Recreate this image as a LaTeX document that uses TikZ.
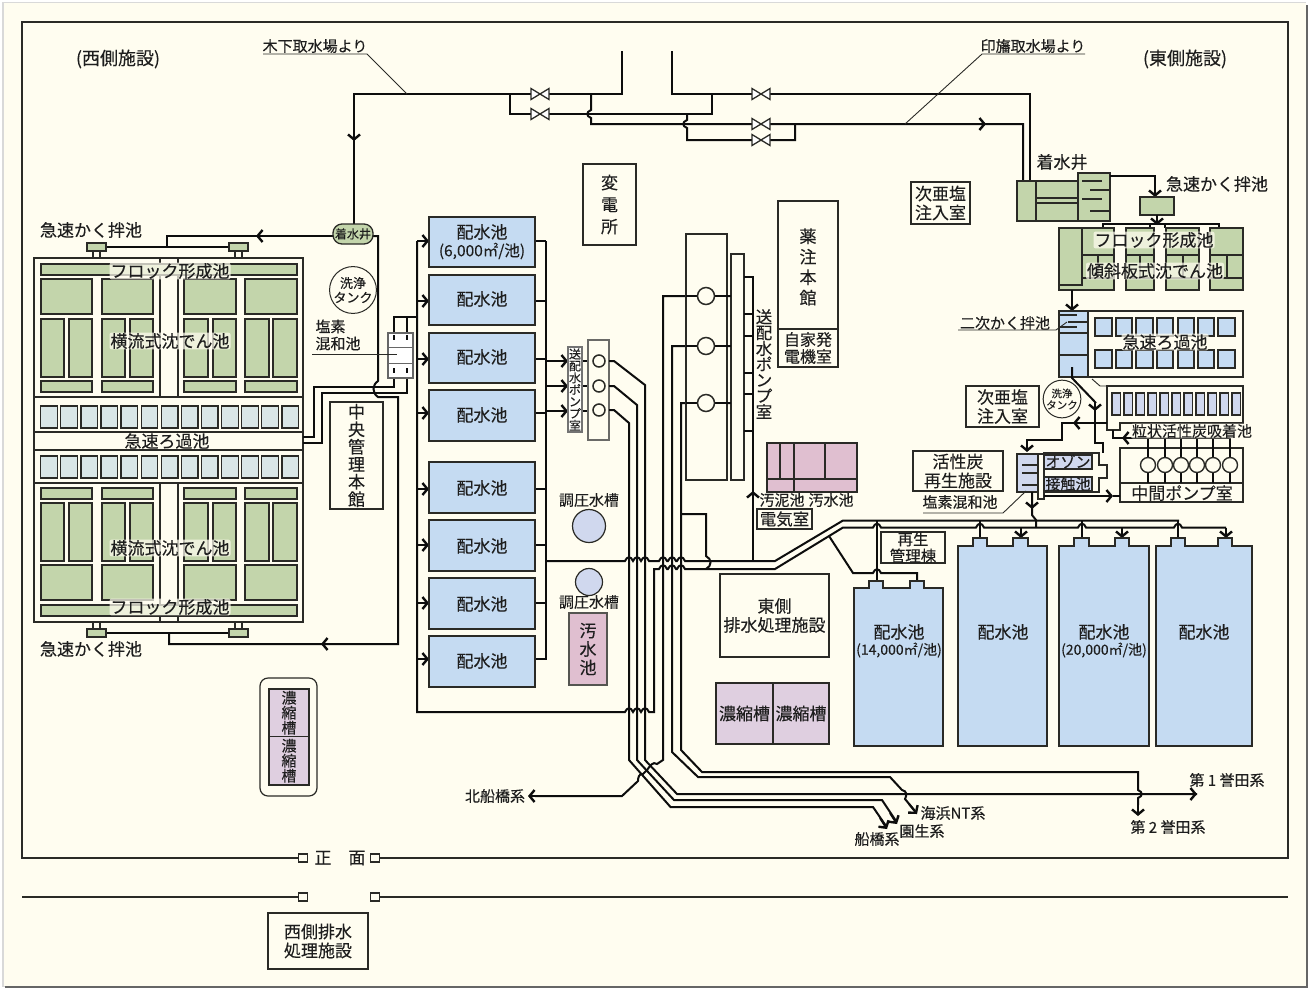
\documentclass[tikz,border=0pt]{standalone}
\usepackage{fontspec}
\setmainfont[FakeBold=0.2]{Noto Sans CJK JP}
\usetikzlibrary{arrows.meta}
\definecolor{cream}{HTML}{FFFDF0}
\definecolor{ln}{HTML}{2A2A26}
\definecolor{grn}{HTML}{C3D5AB}
\definecolor{flt}{HTML}{D9E6E6}
\definecolor{blu}{HTML}{C5DBF2}
\definecolor{lav}{HTML}{DFCFE0}
\definecolor{pnk}{HTML}{E0BFD0}
\definecolor{prp}{HTML}{D0D8EE}
\definecolor{txc}{HTML}{1E1E1E}
\newcommand\fsz[2]{\fontsize{#1}{#2}\selectfont}
\tikzset{
  tank/.style={draw=ln,line width=1.3pt,line join=miter},
  thin line/.style={draw=ln,line width=.9pt},
  pipe/.style={draw=black!95,line width=2pt,line join=miter},
  pipes/.style={draw=black!95,line width=1.6pt},
  arr/.style={pipe,-{Straight Barb[length=5pt,width=12pt,line width=2.4pt]}},
  txt/.style={text=txc,align=center,inner sep=0pt,font=\fsz{17}{19}},
  halo/.style={txt,fill=cream,fill opacity=.72,text opacity=1,inner xsep=1pt,inner ysep=.5pt,rounded corners=2pt},
  box/.style={draw=ln,line width=1.3pt,fill=cream,align=center,text=txc,inner sep=0pt,font=\fsz{17}{19}},
}
\newcommand\rk[5][none]{\draw[tank,fill=#1] (#2,#3) rectangle (#4,#5);}
\newcommand\bxn[7][]{\node[box,#1,minimum width={(#5-#3)*1pt},minimum height={(#6-#4)*1pt}] (#2) at ({(#3+#5)/2},{(#4+#6)/2}) {#7};}
\newcommand\tx[5][]{\node[txt,#1] (#2) at (#3,#4) {#5};}
\newcommand\hx[5][]{\node[halo,#1] (#2) at (#3,#4) {#5};}
\newcommand\hp[2]{-- ({#1-4},#2) .. controls ({#1-2},{#2-5}) and ({#1+2},{#2-5}) .. ({#1+4},#2)}
\newcommand\vhd[3]{-- (#1,{#2-4}) .. controls ({#1+#3*5},{#2-2}) and ({#1+#3*5},{#2+2}) .. (#1,{#2+4})}
\newcommand\vhu[3]{-- (#1,{#2+4}) .. controls ({#1+#3*5},{#2+2}) and ({#1+#3*5},{#2-2}) .. (#1,{#2-4})}
\newcommand\valve[2]{\draw[draw=ln,line width=1.3pt,fill=white] ({#1-9},{#2-5.5}) -- ({#1+9},{#2+5.5}) -- ({#1+9},{#2-5.5}) -- ({#1-9},{#2+5.5}) -- cycle;}
\newcommand\rtank[8]{\draw[tank,fill=blu] (#1,746) -- (#1,#7) -- (#3,#7) -- (#3,#8) -- (#4,#8) -- (#4,#7) -- (#5,#7) -- (#5,#8) -- (#6,#8) -- (#6,#7) -- (#2,#7) -- (#2,746) -- cycle;}
\begin{document}
\begin{tikzpicture}[x=1pt,y=-1pt]
\useasboundingbox (0,0) rectangle (1311,989);
\fill[white] (0,0) rectangle (1311,989);
\fill[black!15] (2,2) rectangle (1306,987);
\fill[black!60] (5,5) rectangle (1308,988);
\fill[cream] (4,3) rectangle (1306,986);
% frame
\draw[ln,line width=1.5pt] (300,858) -- (22,858) -- (22,22) -- (1288,22) -- (1288,858) -- (378,858);
\draw[ln,line width=1.3pt] (22,897) -- (300,897);
\draw[ln,line width=1.3pt] (378,897) -- (1288,897);
\foreach \a/\b in {303/858,375/858,303/897,375/897}{\draw[ln,line width=1.2pt,fill=cream] ({\a-4.5},{\b-4}) rectangle ({\a+4.5},{\b+4});}
% ===== west filtration
\draw[tank] (34,258) rectangle (303,622);
\draw[tank] (34,397) -- (303,397) (34,432) -- (303,432) (34,450) -- (303,450) (34,483) -- (303,483);
\draw[tank] (160,258) -- (160,397) (178,258) -- (178,397) (160,483) -- (160,622) (178,483) -- (178,622);
\rk[grn]{41}{264}{297}{275}
\rk[grn]{41}{605}{297}{616}
\foreach \a/\b in {41/92,102/153,184/236,245/297}{
  \rk[grn]{\a}{279}{\b}{314}
  \rk[grn]{\a}{381}{\b}{392}
  \rk[grn]{\a}{488}{\b}{499}
  \rk[grn]{\a}{565}{\b}{600}
}
\foreach \a/\b in {41/64,69/92,102/125,130/153,184/208,213/236,245/269,273/297}{
  \rk[grn]{\a}{319}{\b}{377}
  \rk[grn]{\a}{503}{\b}{561}
}
\foreach \i in {0,...,12}{
  \rk[flt]{40.7+20.1*\i}{406}{57.3+20.1*\i}{428}
  \rk[flt]{40.7+20.1*\i}{456}{57.3+20.1*\i}{478}
}
% west mixers
\draw[tank] (93,251) -- (93,258) (100,251) -- (100,258) (235,251) -- (235,258) (242,251) -- (242,258);
\draw[tank] (93,622) -- (93,629) (100,622) -- (100,629) (235,622) -- (235,629) (242,622) -- (242,629);
\draw[pipes] (106,247) -- (229,247) (106,633) -- (229,633);
\rk[grn]{87}{243}{106}{251}
\rk[grn]{229}{243}{248}{251}
\rk[grn]{87}{629}{106}{637}
\rk[grn]{229}{629}{248}{637}
% top pipes
\draw[pipe] (622,51) -- (622,94) -- (354,94) -- (354,224);
\draw[arr] (354,128) -- (354,141);
\draw[pipe] (510,94) -- (510,114) -- (712,114) -- (712,94);
\draw[pipe] (591,94) \vhd{591}{114}{-1} -- (591,124) -- (1023,124) -- (1023,181);
\draw[arr] (972,124) -- (986,124);
\draw[pipe] (672,51) -- (672,94) -- (1030,94) -- (1030,181);
\draw[pipe] (795,124) -- (795,140) -- (687,140) \vhu{687}{124}{-1} -- (687,114);
\valve{540}{94}\valve{540}{114}\valve{761}{94}\valve{761}{124}\valve{761}{140}
\draw[thin line] (263,54) -- (367,54) -- (407,94);
\draw[thin line] (1085,54) -- (982,54) -- (905,124);
% west raw
\draw[pipe] (333,236) -- (167,236) -- (167,247);
\draw[arr] (270,236) -- (256,236);
\draw[pipe] (373,236) -- (378,236) -- (378,381) .. controls (372,385) and (372,393) .. (378,397) -- (398,397) -- (398,644) -- (169,644) -- (169,633);
\draw[arr] (335,644) -- (321,644);
\draw[pipe] (394,373) -- (394,387) -- (314,387) -- (314,437) -- (303,437);
\draw[pipe] (407,373) -- (407,393) -- (322,393) -- (322,443) -- (303,443);
\draw[pipe] (394,335) -- (394,317) -- (417,317) (407,317) -- (407,335);
\node[draw=ln,line width=1.3pt,fill=grn,rounded corners=9pt,minimum width=40pt,minimum height=20pt,inner sep=0pt,text=txc,font=\fsz{12}{15}] (wchakusui) at (353,234) {着水井};
\draw[tank,fill=white,draw=black!60] (388,333) rectangle (413,378);
\draw[draw=black!60,line width=1pt] (388,347) -- (413,347) (388,363) -- (413,363);
\draw[pipe] (394,335) -- (394,340) (407,335) -- (407,340);
\draw[pipe] (394,368) -- (394,373) (407,368) -- (407,373);
\draw[thin line] (312,354) -- (397,354);
\node[draw=ln,line width=1pt,fill=cream,circle,minimum size=38pt,inner sep=0pt,align=center,text=txc,font=\fsz{13}{14.5}] (wwash) at (353,290) {洗浄\\タンク};
\tx[align=left,font=\fsz{15}{17}]{wenso}{338}{335}{塩素\\混和池}
% reservoirs
\draw[pipe] (417,241) -- (417,712) \hp{629}{712} \hp{637}{712} \hp{645}{712} -- (654,712) -- (654,569) \hp{663}{569} \hp{672}{569} \hp{681}{569} -- (775,569) -- (843,527.5) \hp{877}{527.5} \hp{980}{527.5} \hp{1082}{527.5} \hp{1178}{527.5} -- (1226,527.5);
\draw[pipe] (546,241) -- (546,660);
\draw[pipe] (546,561) \hp{629}{561} \hp{637}{561} \hp{645}{561} \hp{663}{561} \hp{672}{561} \hp{681}{561} -- (775,561) -- (843,520.5) -- (1179,520.5);
\foreach \yy in {241,301,359,413,489,545,603,659}{
  \draw[arr] (417,\yy) -- (429,\yy);
  \draw[pipe] (535,\yy) -- (546,\yy);
}
\foreach \nn/\a/\b in {r1/217/267,r2/275/325,r3/333/383,r4/390/441,r5/462/513,r6/520/571,r7/578/629,r8/636/687}{
  \bxn[fill=blu]{\nn}{429}{\a}{535}{\b}{}
}
\tx{r1t}{482}{232}{配水池}
\tx[font=\fsz{15.5}{17}]{r1s}{482}{251}{(6,000㎡/池)}
\tx{r2t}{482}{299}{配水池}
\tx{r3t}{482}{357}{配水池}
\tx{r4t}{482}{415}{配水池}
\tx{r5t}{482}{488}{配水池}
\tx{r6t}{482}{546}{配水池}
\tx{r7t}{482}{604}{配水池}
\tx{r8t}{482}{661}{配水池}
% west pump
\foreach \yy in {361,386,411}{
  \draw[arr] (546,\yy) -- (568,\yy);
  \draw[pipe] (582,\yy) -- (593,\yy);
}
\draw[pipe] (609,361) -- (614,361) -- (645,385) -- (645,760) -- (677,794) -- (1197,794);
\draw[arr] (1183,794) -- (1197,794);
\draw[pipe] (609,386) -- (614,386) -- (637,405) -- (637,760) -- (674,800) -- (882,800) -- (896,821);
\draw[pipe] (609,410) -- (614,410) -- (629,423) -- (629,760) -- (670.5,807) -- (873,807) -- (886,826);
\draw[arr] (890,813) -- (897,824);
\draw[arr] (880,818) -- (887,829);
\bxn[draw=ln!70]{wpbox}{588}{340}{609}{440}{}
\foreach \yy in {361,386,410}{\draw[draw=ln,line width=1.5pt,fill=cream] (599,\yy) circle (6);}
\draw[pipe] (609,361) -- (614,361) (609,386) -- (614,386) (609,410) -- (614,410);
\bxn[draw=black!55,line width=1.2pt,fill=white!80!cream,font=\fsz{12}{11.9}]{wplabel}{568}{347}{582}{432}{送\\配\\水\\ポ\\ン\\プ\\室}
% east pump
\draw[pipe] (731,296) -- (663,296) -- (663,760) -- (657,764) .. controls (653,761) and (650,766) .. (647,770) -- (643,774) .. controls (639,773) and (638,778) .. (638,781) -- (622,796) -- (535,796);
\draw[arr] (542,796) -- (528,796);
\draw[pipe] (731,346) -- (672,346) -- (672,752) -- (698,777) -- (890,777) -- (902,790) .. controls (907,791) and (907,795) .. (905,799) -- (915,811);
\draw[arr] (909,804) -- (917,814);
\draw[pipe] (731,403) -- (681,403) -- (681,750) -- (702,772) -- (1138,772) \vhd{1138}{794}{1} -- (1138,805);
\draw[arr] (1138,802) -- (1138,816);
\draw[pipe] (681,514) -- (706,514) -- (706,556) .. controls (712,559) and (712,566) .. (706,569);
\bxn[line width=1.1pt]{epbox}{686}{234}{727}{480}{}
\bxn[line width=1.1pt]{epnarrow}{731}{254}{744}{480}{}
\foreach \yy in {296,346,403}{
 \draw[pipe] (686,\yy) -- (731,\yy);
 \draw[draw=ln,line width=1.5pt,fill=cream] (706,\yy) circle (8.5);}
\draw[pipe] (744,277) -- (753,277) -- (753,561);
\foreach \yy in {314,336,373,394,431}{\draw[pipes] (744,\yy) -- (753,\yy);}
\draw[arr] (753,505) -- (753,491);
\tx[font=\fsz{16.5}{15.8}]{eplabel}{764}{364}{送\\配\\水\\ポ\\ン\\プ\\室}
% buildings
\bxn[font=\fsz{17}{22}]{henden}{583}{164}{636}{245}{変\\電\\所}
\bxn[]{yaku}{778}{201}{838}{367}{}
\draw[tank] (778,329) -- (838,329);
\tx[font=\fsz{17}{20.5}]{yakut}{808}{267}{薬\\注\\本\\館}
\tx[font=\fsz{16}{17}]{jika}{808}{348}{自家発\\電機室}
\bxn[font=\fsz{17}{17.5}]{chuo}{330}{402}{383}{509}{中\\央\\管\\理\\本\\館}
\bxn[]{jia1}{911}{182}{970}{224}{次亜塩\\注入室}
% pressure tanks etc
\tx[font=\fsz{15}{17}]{cho1}{589}{500}{調圧水槽}
\tx[font=\fsz{15}{17}]{cho2}{589}{602}{調圧水槽}
\node[draw=ln,line width=1.2pt,fill=prp,circle,minimum size=33pt,inner sep=0pt] (c1) at (589,526) {};
\node[draw=ln,line width=1.2pt,fill=prp,circle,minimum size=27pt,inner sep=0pt] (c2) at (589,582) {};
\bxn[fill=pnk,draw=ln!80,font=\fsz{17}{18.5}]{wsui}{569}{613}{607}{685}{汚\\水\\池}
% sludge
\rk[pnk]{767}{443}{857}{492}
\draw[tank] (780,443) -- (780,479) (794,443) -- (794,492) (825,443) -- (825,479) (767,479) -- (857,479);
\tx[font=\fsz{15}{16}]{doro}{782}{500}{汚泥池}
\tx[font=\fsz{15}{16}]{susui}{831}{500}{汚水池}
\bxn[font=\fsz{16.5}{18}]{denki}{757}{509}{812}{529}{電気室}
\bxn[]{eshori}{720}{574}{829}{657}{東側\\排水処理施設}
\bxn[fill=lav]{nou1}{716}{683}{773}{744}{濃縮槽}
\bxn[fill=lav]{nou2}{773}{683}{829}{744}{濃縮槽}
\node[draw=ln,line width=1.2pt,fill=cream,rounded corners=8pt,minimum width=57pt,minimum height=118pt,inner sep=0pt] (wnouo) at (288.5,737) {};
\bxn[fill=lav,font=\fsz{15}{15}]{wnou1}{269}{689}{309}{736.5}{濃\\縮\\槽}
\bxn[fill=lav,font=\fsz{15}{15}]{wnou2}{269}{736.5}{309}{785}{濃\\縮\\槽}
\bxn[]{wshori}{268}{913}{368}{969}{西側排水\\処理施設}
% east big tanks
\draw[pipe] (829,536) -- (853,573) \hp{877}{573} -- (917,573) -- (917,581);
\draw[pipe] (877,581) -- (877,521);
\foreach \xx in {980,1082,1178}{\draw[pipe] (\xx,538) -- (\xx,521);}
\draw[arr] (1021,527.5) -- (1021,538);
\draw[arr] (1122,527.5) -- (1122,538);
\draw[arr] (1226,527.5) -- (1226,538);
\rtank{854}{943}{869}{883}{910}{924}{588}{581}
\rtank{958}{1047}{973}{987}{1013}{1028}{546}{538}
\rtank{1059}{1149}{1074}{1089}{1115}{1129}{546}{538}
\rtank{1156}{1252}{1171}{1185}{1218}{1232}{546}{538}
\bxn[font=\fsz{15.5}{16.5}]{saisei}{881}{532}{945}{563}{再生\\管理棟}
\tx{t1a}{899}{632}{配水池}
\tx[font=\fsz{14}{15}]{t1b}{899}{650}{(14,000㎡/池)}
\tx{t2a}{1003}{632}{配水池}
\tx{t3a}{1104}{632}{配水池}
\tx[font=\fsz{14}{15}]{t3b}{1104}{650}{(20,000㎡/池)}
\tx{t4a}{1204}{632}{配水池}
% ===== east treatment
\rk[grn]{1017}{181}{1110}{221}
\rk[grn]{1078}{173}{1110}{221}
\draw[tank] (1036,181) -- (1036,221) (1036,198) -- (1078,198) (1036,203) -- (1078,203);
\draw[tank] (1082,181) -- (1102,181) (1090,190) -- (1110,190) (1082,199) -- (1102,199) (1090,211) -- (1110,211);
\draw[pipe] (1110,176) -- (1155,176) -- (1155,190);
\draw[arr] (1155,185) -- (1155,197);
\rk[grn]{1140}{197}{1174}{215}
\draw[pipes] (1103,228) -- (1103,224) -- (1219,224) -- (1219,228) (1150,224) -- (1150,228) (1165,224) -- (1165,228);
\draw[arr] (1157,215) -- (1157,225);
\foreach \a/\b in {1059/1114,1126/1154,1166/1199,1210/1243}{
  \draw[tank,fill=grn] (\a,228) rectangle (\b,290);
  \draw[tank] (\a,255) -- (\b,255) (\a,278) -- (\b,278);
}
\draw[tank] (1098,255) -- (1098,278) (1140,255) -- (1140,278) (1183,255) -- (1183,278) (1227,255) -- (1227,278);
\rk[grn]{1059}{228}{1082}{285}
\draw[pipe] (1072,290) -- (1072,300);
\draw[arr] (1072,298) -- (1072,311);
\rk{1059}{311}{1243}{377}
\rk[blu]{1059}{311}{1088}{377}
\draw[tank] (1059,333) -- (1088,333) (1059,355) -- (1088,355) (1059,315) -- (1077,315) (1068,322) -- (1088,322) (1059,327) -- (1077,327);
\foreach \a/\b in {1095/1112,1116/1132,1136/1153,1157/1173,1178/1194,1198/1214,1218/1235}{
  \rk[blu]{\a}{318}{\b}{336}
  \rk[blu]{\a}{350}{\b}{368}
}
\draw[thin line] (958,330) -- (1056,330) -- (1067,322);
\draw[pipe] (1072,367) -- (1072,378) -- (1096,403);
\draw[arr] (1095,402) -- (1095,411);
\draw[pipe] (1095,405) -- (1095,443) -- (1103,443) -- (1103,453);
\draw[thin line] (1092,379) -- (1100,386) -- (1107,386);
\draw[tank] (1107,386) -- (1243,386) -- (1243,423) -- (1120,423) -- (1120,430) -- (1107,430) -- cycle;
\foreach \i in {0,...,10}{\rk[prp]{1112+12*\i}{393}{1120.3+12*\i}{415}}
\draw[pipe] (1107,423) -- (1062,423) -- (1062,440) -- (1027,440) -- (1027,445);
\draw[arr] (1082,423) -- (1073,423);
\draw[arr] (1027,442) -- (1027,452);
\draw[pipe] (1113,430) -- (1113,438) -- (1230,438);
\draw[arr] (1135,438) -- (1122,438);
\bxn[]{chukan}{1120}{448}{1243}{502}{}
\draw[tank] (1120,483) -- (1243,483);
\tx[font=\fsz{17}{19}]{chukant}{1182}{493}{中間ポンプ室}
\foreach \xx in {1148,1165,1181,1197,1213,1230}{
  \draw[pipe] (\xx,438) -- (\xx,483);
  \draw[draw=ln,line width=1.4pt,fill=cream] (\xx,465) circle (7.5);
}
\draw[tank,fill=cream] (1044,453) -- (1099,453) -- (1099,465) -- (1107,465) -- (1107,478) -- (1099,478) -- (1099,492) -- (1044,492) -- cycle;
\rk[prp]{1044}{455}{1092}{469}
\rk[prp]{1044}{477}{1092}{491}
\rk[prp]{1017}{454}{1038}{492}
\draw[tank] (1022,465) -- (1038,465) (1022,473) -- (1038,473) (1022,485) -- (1038,485);
\rk[cream]{1038}{454}{1044}{499}
\tx[font=\fsz{15}{17}]{ozon}{1068}{461.5}{オゾン}
\tx[font=\fsz{15}{17}]{sesshoku}{1068}{484}{接触池}
\draw[pipe] (1044,496) -- (1105,496);
\draw[arr] (1100,496) -- (1113,496);
\draw[pipe] (1120,496) -- (1113,496);
\draw[pipe] (1032,492) -- (1032,515) -- (1036,520) -- (1036,527);
\draw[arr] (1032,497) -- (1032,509);
\bxn[]{katsu}{913}{451}{1003}{491}{活性炭\\再生施設}
\bxn[]{jia2}{966}{386}{1039}{427}{次亜塩\\注入室}
\node[draw=ln,line width=1pt,fill=cream,circle,minimum size=30pt,inner sep=0pt,align=center,text=txc,font=\fsz{10.5}{11.5}] (ewash) at (1062,399) {洗浄\\タンク};
\tx[font=\fsz{15}{17}]{emixl}{960}{502}{塩素混和池}
\draw[thin line] (923,513) -- (1003,513) -- (1026,491);
% labels
\tx[font=\fsz{15}{17}]{from1}{315}{46}{木下取水場より}
\tx[font=\fsz{15}{17}]{from2}{1033}{46}{印旛取水場より}
\tx[font=\fsz{18}{19}]{west}{118}{59}{(西側施設)}
\tx[font=\fsz{18}{19}]{east}{1185}{59}{(東側施設)}
\tx{k1}{91}{230}{急速かく拌池}
\tx{k2}{91}{649}{急速かく拌池}
\tx{k3}{1217}{184}{急速かく拌池}
\tx{ck}{1062}{162}{着水井}
\tx[font=\fsz{15}{17}]{nij}{1005}{323}{二次かく拌池}
\hx{fl1}{170}{271}{フロック形成池}
\hx{fl2}{170}{607}{フロック形成池}
\hx{sed1}{170}{341}{横流式沈でん池}
\hx{sed2}{170}{548}{横流式沈でん池}
\tx{rf}{167}{441}{急速ろ過池}
\hx{efl}{1154}{240}{フロック形成池}
\hx{esed}{1155}{271}{傾斜板式沈でん池}
\hx{erf}{1165}{342}{急速ろ過池}
\hx[font=\fsz{15}{17}]{gac}{1192}{431}{粒状活性炭吸着池}
\tx[font=\fsz{15}{17}]{kita}{495}{796}{北船橋系}
\tx[font=\fsz{15}{17}]{kaihin}{953}{813}{海浜NT系}
\tx[font=\fsz{15}{17}]{sono}{922}{831}{園生系}
\tx[font=\fsz{15}{17}]{funa}{877}{839}{船橋系}
\tx[font=\fsz{15}{17}]{hon1}{1227}{780}{第 1 誉田系}
\tx[font=\fsz{15}{17}]{hon2}{1168}{827}{第 2 誉田系}
\tx{shomen}{340}{858}{正\hspace{1em}面}
\end{tikzpicture}
\end{document}
